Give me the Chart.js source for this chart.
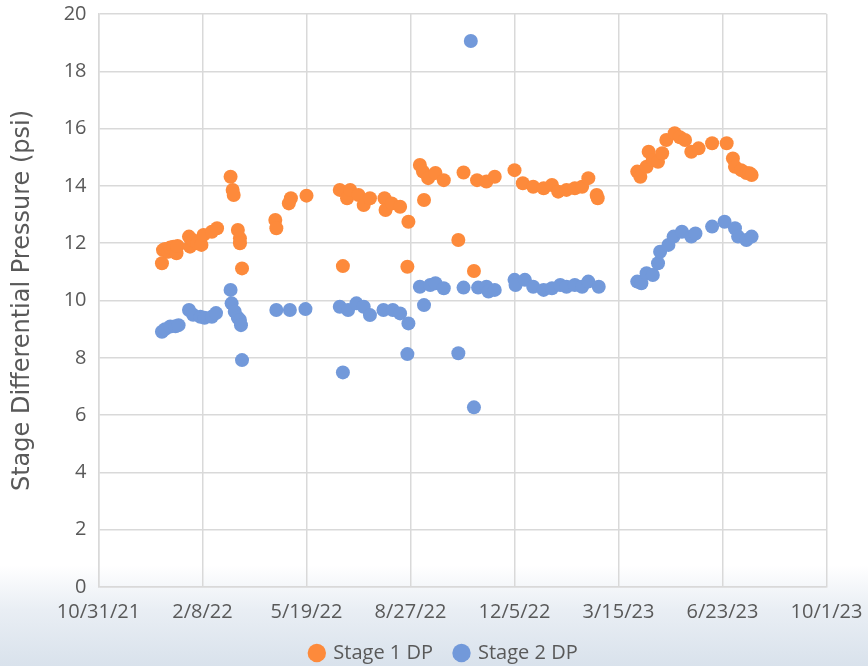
<!DOCTYPE html>
<html>
<head>
<meta charset="utf-8">
<script src="https://cdn.jsdelivr.net/npm/chart.js@4"></script>
<style>
  html, body { margin: 0; padding: 0; }
  body {
    width: 868px; height: 666px; overflow: hidden;
    background: linear-gradient(to bottom, #ffffff 0px, #ffffff 565px, #e9eef4 610px, #d9e2ec 666px);
  }
  #wrap { position: relative; width: 868px; height: 673px; }
</style>
</head>
<body>
<div id="wrap"><canvas id="dpChart"></canvas></div>
<script>
// x values are Excel serial dates (44500 = 10/31/21)
const stage1Dates = [44561, 44562, 44564, 44567, 44569, 44572, 44575, 44576, 44587, 44588,
  44591, 44595, 44599, 44601, 44609, 44614, 44627, 44629, 44630, 44634,
  44636, 44636, 44638, 44670, 44671, 44683, 44685, 44700, 44732, 44735,
  44739, 44742, 44750, 44755, 44761, 44775, 44776, 44782, 44790, 44797,
  44798, 44809, 44812, 44813, 44817, 44824, 44832, 44846, 44851, 44861,
  44864, 44873, 44881, 44900, 44908, 44918, 44928, 44936, 44942, 44950,
  44958, 44965, 44971, 44979, 44980, 45018, 45021, 45027, 45029, 45033,
  45038, 45042, 45046, 45054, 45059, 45064, 45070, 45077, 45090, 45104,
  45110, 45112, 45118, 45123, 45126, 45128];
const stage1DP = [11.3, 11.76, 11.8, 11.7, 11.85, 11.88, 11.65, 11.9, 12.23, 11.88,
  12.1, 12.0, 11.94, 12.29, 12.4, 12.52, 14.32, 13.86, 13.68, 12.46,
  12.17, 12.0, 11.12, 12.81, 12.52, 13.39, 13.57, 13.66, 13.86, 11.2,
  13.57, 13.86, 13.68, 13.33, 13.57, 13.57, 13.16, 13.39, 13.27, 11.18,
  12.75, 14.73, 14.5, 13.51, 14.27, 14.45, 14.2, 12.11, 14.47, 11.03,
  14.2, 14.15, 14.32, 14.55, 14.09, 13.97, 13.92, 14.03, 13.8, 13.86,
  13.92, 13.97, 14.27, 13.68, 13.57, 14.5, 14.32, 14.67, 15.19, 14.9,
  14.84, 15.14, 15.6, 15.84, 15.7, 15.6, 15.19, 15.31, 15.49, 15.49,
  14.96, 14.67, 14.55, 14.45, 14.44, 14.38];

const stage2Dates = [44561, 44564, 44569, 44574, 44577, 44587, 44591, 44598, 44602, 44609,
  44613, 44627, 44628, 44631, 44634, 44636, 44637, 44638, 44671, 44684,
  44699, 44732, 44735, 44740, 44748, 44755, 44761, 44774, 44783, 44790,
  44797, 44798, 44809, 44813, 44819, 44824, 44832, 44846, 44851, 44858,
  44861, 44865, 44873, 44875, 44881, 44900, 44901, 44910, 44918, 44928,
  44936, 44944, 44950, 44958, 44965, 44971, 44981, 45018, 45022, 45027,
  45033, 45038, 45040, 45048, 45053, 45061, 45070, 45074, 45090, 45102,
  45112, 45115, 45123, 45128];
const stage2DP = [8.91, 9.0, 9.09, 9.1, 9.14, 9.67, 9.5, 9.43, 9.4, 9.43,
  9.56, 10.37, 9.9, 9.61, 9.4, 9.32, 9.14, 7.92, 9.67, 9.67,
  9.7, 9.78, 7.49, 9.67, 9.9, 9.78, 9.49, 9.67, 9.67, 9.55,
  8.13, 9.2, 10.48, 9.84, 10.54, 10.6, 10.43, 8.16, 10.45, 19.06,
  6.27, 10.45, 10.48, 10.31, 10.37, 10.72, 10.54, 10.72, 10.48, 10.37,
  10.43, 10.54, 10.48, 10.54, 10.48, 10.66, 10.48, 10.66, 10.6, 10.95,
  10.89, 11.3, 11.7, 11.94, 12.23, 12.4, 12.23, 12.34, 12.58, 12.75,
  12.52, 12.23, 12.11, 12.23];

const xTickValues = [44500, 44600, 44700, 44800, 44900, 45000, 45100, 45200];
const xTickLabels = ['10/31/21', '2/8/22', '5/19/22', '8/27/22', '12/5/22', '3/15/23', '6/23/23', '10/1/23'];

const toPoints = (xs, ys) => xs.map((x, i) => ({ x: x, y: ys[i] }));

const FONT = "'Open Sans', sans-serif";
const TEXT = '#595959';
const GRID = '#d9d9d9';

const ctx = document.getElementById('dpChart').getContext('2d');
new Chart(ctx, {
    type: 'scatter',
    data: {
        datasets: [
            {
                label: 'Stage 1 DP',
                data: toPoints(stage1Dates, stage1DP),
                backgroundColor: '#fd8a3b',
                borderWidth: 0,
                pointRadius: 7
            },
            {
                label: 'Stage 2 DP',
                data: toPoints(stage2Dates, stage2DP),
                backgroundColor: '#7299da',
                borderWidth: 0,
                pointRadius: 7
            }
        ]
    },
    options: {
        responsive: true,
        maintainAspectRatio: false,
        animation: false,
        // canvas is 673 tall so the legend gets clipped a bit at 666, like the original
        layout: { padding: { left: 20, right: 0, top: 14, bottom: 0 } },
        plugins: {
            tooltip: { enabled: false },
            legend: {
                position: 'bottom',
                labels: {
                    color: TEXT,
                    font: { family: FONT, size: 20 },
                    usePointStyle: true,
                    pointStyle: 'circle',
                    boxWidth: 13,
                    boxHeight: 13,
                    padding: 22
                }
            }
        },
        scales: {
            x: {
                type: 'linear',
                min: 44500,
                max: 45200,
                afterBuildTicks: (scale) => {
                    scale.ticks = xTickValues.map(v => ({ value: v }));
                },
                ticks: {
                    color: TEXT,
                    font: { family: FONT, size: 20 },
                    maxRotation: 0,
                    autoSkip: false,
                    padding: 13,
                    callback: (value) => {
                        const i = xTickValues.indexOf(value);
                        return i >= 0 ? xTickLabels[i] : '';
                    }
                },
                grid: { color: GRID, lineWidth: 1.5, drawTicks: false },
                border: { color: GRID, width: 1.5 },
                afterFit: (scale) => {
                    scale.height = 34;
                    scale.paddingLeft = 0;
                    scale.paddingRight = 41.5;
                }
            },
            y: {
                min: 0,
                max: 20,
                ticks: {
                    stepSize: 2,
                    color: TEXT,
                    font: { family: FONT, size: 20 },
                    padding: 12
                },
                title: {
                    display: true,
                    text: 'Stage Differential Pressure (psi)',
                    color: TEXT,
                    font: { family: "'DejaVu Sans', sans-serif", size: 24 },
                    padding: { top: -12, bottom: 4 }
                },
                grid: { color: GRID, lineWidth: 1.5, drawTicks: false },
                border: { color: GRID, width: 1.5 },
                afterFit: (scale) => {
                    scale.width = 78.5;
                    scale.paddingTop = 0;
                    scale.paddingBottom = 0;
                }
            }
        }
    }
});
</script>
</body>
</html>
